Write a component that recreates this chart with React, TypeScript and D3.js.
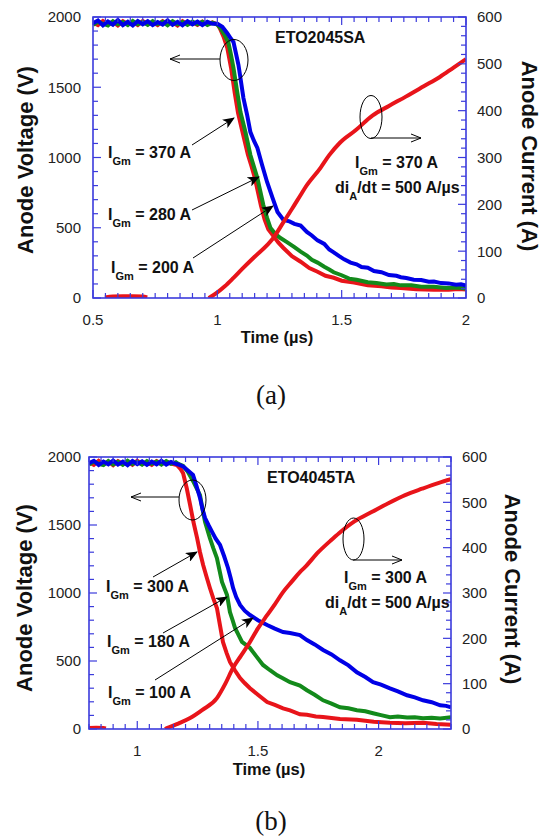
import React from 'react';
import * as d3 from 'd3';

type P = [number, number];

// ---------- Panel (a): ETO2045SA ----------
const voltA_370: P[] = [
  [0.5,1955],[0.52,1975],[0.54,1940],[0.56,1968],[0.58,1945],[0.6,1978],[0.62,1942],[0.64,1966],[0.66,1940],[0.68,1972],
  [0.7,1948],[0.72,1970],[0.74,1942],[0.76,1964],[0.78,1946],[0.8,1976],[0.82,1944],[0.84,1966],[0.86,1942],[0.88,1970],
  [0.9,1948],[0.92,1968],[0.94,1943],[0.96,1966],[0.98,1952],[1.0,1952],[1.02,1930],[1.04,1885],[1.055,1845],[1.065,1822],
  [1.075,1740],[1.085,1658],[1.093,1566],[1.105,1423],[1.12,1302],[1.133,1181],[1.147,1120],[1.161,1068],[1.18,947],[1.2,826],
  [1.222,712],[1.242,612],[1.266,555],[1.29,545],[1.31,528],[1.335,515],[1.36,470],[1.38,445],[1.403,410],[1.43,385],
  [1.45,345],[1.468,325],[1.49,298],[1.51,275],[1.536,252],[1.56,240],[1.58,220],[1.605,215],[1.63,192],[1.66,184],
  [1.69,163],[1.72,158],[1.738,148],[1.76,142],[1.79,130],[1.82,128],[1.85,116],[1.871,117],[1.9,106],[1.93,104],
  [1.96,94],[1.98,98],[2.0,88]
];
const voltA_280: P[] = [
  [0.5,1945],[0.52,1966],[0.54,1952],[0.56,1940],[0.58,1970],[0.6,1948],[0.62,1964],[0.64,1942],[0.66,1972],[0.68,1948],
  [0.7,1964],[0.72,1944],[0.74,1970],[0.76,1950],[0.78,1966],[0.8,1942],[0.82,1970],[0.84,1948],[0.86,1964],[0.88,1944],
  [0.9,1968],[0.92,1948],[0.94,1966],[0.96,1944],[0.98,1960],[1.0,1945],[1.012,1922],[1.03,1870],[1.044,1822],[1.055,1730],
  [1.065,1637],[1.08,1466],[1.093,1324],[1.113,1181],[1.133,1018],[1.147,935],[1.161,854],[1.185,662],[1.2,570],[1.214,498],
  [1.234,455],[1.254,427],[1.28,398],[1.31,362],[1.335,330],[1.36,302],[1.38,272],[1.403,252],[1.43,222],[1.45,203],
  [1.468,183],[1.5,162],[1.53,138],[1.56,130],[1.605,112],[1.64,107],[1.68,96],[1.71,100],[1.738,90],[1.78,90],
  [1.82,80],[1.871,80],[1.92,72],[1.96,74],[2.0,68]
];
const voltA_200: P[] = [
  [0.5,1962],[0.52,1942],[0.54,1972],[0.56,1948],[0.58,1966],[0.6,1940],[0.62,1970],[0.64,1950],[0.66,1964],[0.68,1942],
  [0.7,1972],[0.72,1948],[0.74,1962],[0.76,1942],[0.78,1970],[0.8,1950],[0.82,1962],[0.84,1940],[0.86,1970],[0.88,1948],
  [0.9,1962],[0.92,1944],[0.94,1968],[0.96,1948],[0.98,1962],[1.0,1948],[1.01,1920],[1.025,1860],[1.04,1780],[1.055,1640],
  [1.07,1460],[1.083,1320],[1.1,1190],[1.123,1020],[1.137,940],[1.15,860],[1.175,660],[1.19,560],[1.205,490],[1.222,450],
  [1.245,395],[1.266,356],[1.3,298],[1.335,258],[1.37,213],[1.403,187],[1.435,158],[1.468,144],[1.5,123],[1.55,110],
  [1.605,91],[1.66,84],[1.7,74],[1.738,72],[1.8,62],[1.871,58],[1.93,58],[1.97,64],[2.0,60]
];
const currA_pre: P[] = [[0.548,1],[0.58,3],[0.62,4],[0.66,4],[0.7,3],[0.718,1]];
const currA: P[] = [
  [0.965,0],[0.972,2],[1.0,12],[1.03,25],[1.065,43],[1.1,62],[1.15,88],[1.2,113],[1.222,126],[1.266,162],
  [1.3,190],[1.335,220],[1.355,237],[1.415,278],[1.45,305],[1.492,331],[1.556,358],[1.625,390],[1.69,410],[1.758,430],
  [1.83,452],[1.895,472],[1.95,492],[2.0,510]
];

// ---------- Panel (b): ETO4045TA ----------
const voltB_300: P[] = [
  [0.8,1955],[0.82,1972],[0.84,1942],[0.86,1966],[0.88,1946],[0.9,1974],[0.92,1944],[0.94,1966],[0.96,1940],[0.98,1970],
  [1.0,1948],[1.02,1968],[1.04,1942],[1.06,1966],[1.08,1946],[1.1,1972],[1.12,1944],[1.14,1964],[1.16,1950],[1.17,1945],
  [1.19,1930],[1.21,1900],[1.231,1868],[1.245,1790],[1.26,1699],[1.27,1620],[1.281,1551],[1.295,1500],[1.31,1449],[1.325,1400],
  [1.343,1353],[1.36,1270],[1.376,1184],[1.387,1110],[1.397,1037],[1.41,970],[1.426,912],[1.445,870],[1.467,838],[1.5,800],
  [1.538,765],[1.57,738],[1.604,713],[1.633,706],[1.674,691],[1.703,654],[1.735,622],[1.77,581],[1.805,548],[1.84,505],
  [1.875,468],[1.91,417],[1.945,382],[1.977,344],[2.01,326],[2.047,299],[2.08,277],[2.118,248],[2.15,232],[2.184,211],
  [2.22,197],[2.255,174],[2.28,170],[2.3,160]
];
const voltB_180: P[] = [
  [0.8,1945],[0.82,1966],[0.84,1950],[0.86,1940],[0.88,1970],[0.9,1946],[0.92,1964],[0.94,1942],[0.96,1972],[0.98,1948],
  [1.0,1964],[1.02,1944],[1.04,1970],[1.06,1950],[1.08,1966],[1.1,1944],[1.12,1970],[1.14,1950],[1.16,1962],[1.17,1950],
  [1.19,1935],[1.21,1890],[1.235,1810],[1.26,1720],[1.27,1620],[1.281,1522],[1.301,1404],[1.315,1330],[1.33,1257],[1.351,1081],
  [1.372,985],[1.384,860],[1.395,800],[1.405,743],[1.42,690],[1.434,640],[1.467,596],[1.495,530],[1.521,471],[1.55,432],
  [1.58,395],[1.605,372],[1.633,344],[1.674,320],[1.703,285],[1.735,252],[1.77,211],[1.805,187],[1.84,160],[1.875,152],
  [1.91,138],[1.945,130],[1.977,116],[2.01,102],[2.047,86],[2.08,92],[2.118,84],[2.15,86],[2.184,79],[2.22,82],
  [2.255,78],[2.3,86]
];
const voltB_100: P[] = [
  [0.8,1962],[0.82,1942],[0.84,1972],[0.86,1948],[0.88,1966],[0.9,1940],[0.92,1970],[0.94,1950],[0.96,1964],[0.98,1942],
  [1.0,1972],[1.02,1948],[1.04,1962],[1.06,1942],[1.08,1970],[1.1,1950],[1.12,1962],[1.14,1952],[1.165,1940],[1.18,1910],
  [1.19,1880],[1.205,1770],[1.219,1647],[1.233,1520],[1.248,1404],[1.26,1300],[1.273,1206],[1.287,1120],[1.301,1037],[1.315,960],
  [1.33,890],[1.343,760],[1.355,640],[1.37,560],[1.384,493],[1.405,430],[1.426,375],[1.445,338],[1.467,300],[1.5,252],
  [1.538,198],[1.57,177],[1.604,152],[1.633,137],[1.674,108],[1.703,104],[1.74,92],[1.77,89],[1.84,73],[1.91,68],
  [1.98,53],[2.047,46],[2.11,43],[2.184,46],[2.24,36],[2.3,32]
];
const currB_pre: P[] = [[0.8,2],[0.83,3],[0.86,2],[0.87,1]];
const currB: P[] = [
  [1.115,0],[1.123,2],[1.17,12],[1.219,24],[1.27,42],[1.33,68],[1.365,100],[1.397,135],[1.43,162],[1.467,192],
  [1.5,222],[1.538,251],[1.57,275],[1.604,302],[1.64,325],[1.674,346],[1.695,357],[1.75,390],[1.8,415],[1.836,432],
  [1.9,458],[1.973,479],[2.04,498],[2.11,516],[2.18,530],[2.25,543],[2.3,551]
];

const xTicksA = [0.5, 1, 1.5, 2];
const xTicksB = [1, 1.5, 2];
const vTicks = [0, 500, 1000, 1500, 2000];
const iTicks = [0, 100, 200, 300, 400, 500, 600];

const FONT = "'Liberation Sans', Arial, sans-serif";
const AXIS = '#3b3bdc';
const BLUE = '#0000e6';
const GREEN = '#138a1b';
const RED = '#e8141a';

type PanelProps = {
  left: number; right: number; top: number; bottom: number;
  xDomain: [number, number]; xTicks: number[];
  volt: { data: P[]; color: string }[];
  curr: P[][];
  clipId: string;
};

function Panel(p: PanelProps) {
  const x = d3.scaleLinear().domain(p.xDomain).range([p.left, p.right]);
  const yV = d3.scaleLinear().domain([0, 2000]).range([p.bottom, p.top]);
  const yI = d3.scaleLinear().domain([0, 600]).range([p.bottom, p.top]);
  const lineV = d3.line<P>().x(d => x(d[0])).y(d => yV(d[1]));
  const lineI = d3.line<P>().x(d => x(d[0])).y(d => yI(d[1])).curve(d3.curveMonotoneX);
  const minorX = d3.range(Math.round(p.xDomain[0] * 20), Math.round(p.xDomain[1] * 20) + 1).map(k => k / 20);
  const minorV = d3.range(0, 2001, 100);
  const minorI = d3.range(0, 601, 20);
  const isMajX = (v: number) => Math.abs(v * 2 - Math.round(v * 2)) < 1e-6;
  return (
    <g>
      <defs>
        <clipPath id={p.clipId}>
          <rect x={p.left} y={p.top - 3} width={p.right - p.left} height={p.bottom - p.top + 3} />
        </clipPath>
      </defs>
      <g clipPath={`url(#${p.clipId})`}>
        {p.volt.map((s, i) => (
          <path key={i} d={lineV(s.data) || ''} fill="none" stroke={s.color} strokeWidth={4} strokeLinejoin="miter" />
        ))}
        {p.curr.map((s, i) => (
          <path key={i} d={lineI(s) || ''} fill="none" stroke={RED} strokeWidth={4} />
        ))}
      </g>
      {minorX.map((v, i) => {
        const L = isMajX(v) ? 8 : 5;
        return (
          <g key={'x' + i}>
            <line x1={x(v)} x2={x(v)} y1={p.bottom} y2={p.bottom - L} stroke={AXIS} strokeWidth={1.2} />
            <line x1={x(v)} x2={x(v)} y1={p.top} y2={p.top + L} stroke={AXIS} strokeWidth={1.2} />
          </g>
        );
      })}
      {minorV.map((v, i) => {
        const L = v % 500 === 0 ? 8 : 5;
        return <line key={'v' + i} x1={p.left} x2={p.left + L} y1={yV(v)} y2={yV(v)} stroke={AXIS} strokeWidth={1.2} />;
      })}
      {minorI.map((v, i) => {
        const L = v % 100 === 0 ? 8 : 5;
        return <line key={'i' + i} x1={p.right} x2={p.right - L} y1={yI(v)} y2={yI(v)} stroke={AXIS} strokeWidth={1.2} />;
      })}
      <rect x={p.left} y={p.top} width={p.right - p.left} height={p.bottom - p.top} fill="none" stroke={AXIS} strokeWidth={1.6} />
      {vTicks.map(v => (
        <text key={'vl' + v} x={81} y={yV(v)} dy="0.36em" textAnchor="end" fontSize={15} fill="#222" fontFamily={FONT}>{v}</text>
      ))}
      {iTicks.map(v => (
        <text key={'il' + v} x={p.right + 11} y={yI(v)} dy="0.36em" textAnchor="start" fontSize={15} fill="#222" fontFamily={FONT}>{v}</text>
      ))}
      {p.xTicks.map(v => (
        <text key={'xl' + v} x={x(v)} y={p.bottom + 27} textAnchor="middle" fontSize={15} fill="#222" fontFamily={FONT}>{v}</text>
      ))}
    </g>
  );
}

function IGm({ x, y, val }: { x: number; y: number; val: string }) {
  return (
    <text x={x} y={y} fontFamily={FONT} fontWeight="bold" fontSize={16} fill="#111">
      I<tspan fontSize={11} dy={7}>Gm</tspan><tspan dy={-7}>{` = ${val}`}</tspan>
    </text>
  );
}

function DiDt({ x, y }: { x: number; y: number }) {
  return (
    <text x={x} y={y} fontFamily={FONT} fontWeight="bold" fontSize={16} fill="#111">
      di<tspan fontSize={11} dy={7}>A</tspan><tspan dy={-7}>/dt = 500 A/µs</tspan>
    </text>
  );
}

function Arrow({ x1, y1, x2, y2 }: { x1: number; y1: number; x2: number; y2: number }) {
  return <line x1={x1} y1={y1} x2={x2} y2={y2} stroke="#000" strokeWidth={1} markerEnd="url(#ah)" />;
}

export default function App() {
  return (
    <svg width={544} height={838} style={{ position: 'absolute', left: 0, top: 0, background: '#fff' }}>
      <defs>
        <marker id="ah" viewBox="0 0 12 10" refX={11} refY={5} markerWidth={12} markerHeight={10} markerUnits="userSpaceOnUse" orient="auto">
          <path d="M0,0 L12,5 L0,10 L3,5 z" fill="#000" />
        </marker>
      </defs>
      <rect width={544} height={838} fill="#fff" />

      {/* Panel (a) */}
      <Panel left={93} right={466} top={17} bottom={298} xDomain={[0.5, 2]} xTicks={xTicksA} clipId="ca"
        volt={[{ data: voltA_200, color: RED }, { data: voltA_280, color: GREEN }, { data: voltA_370, color: BLUE }]}
        curr={[currA_pre, currA]} />
      <text x={275} y={43} fontFamily={FONT} fontWeight="bold" fontSize={16} fill="#111">ETO2045SA</text>
      <IGm x={108} y={158} val="370 A" />
      <IGm x={108} y={220} val="280 A" />
      <IGm x={111} y={273} val="200 A" />
      <Arrow x1={192} y1={145} x2={234} y2={118} />
      <Arrow x1={192} y1={210} x2={259} y2={177} />
      <Arrow x1={193} y1={258} x2={273} y2={206} />
      <ellipse cx={234} cy={60} rx={14} ry={20.5} fill="none" stroke="#000" strokeWidth={1} />
      <line x1={220} y1={59} x2={170} y2={59} stroke="#000" strokeWidth={1} />
      <polyline points="180,55 170,59 180,63" fill="none" stroke="#000" strokeWidth={1} />
      <ellipse cx={371} cy={117} rx={11} ry={21.5} fill="none" stroke="#000" strokeWidth={1} />
      <line x1={371} y1={138} x2={421} y2={138} stroke="#000" strokeWidth={1} />
      <polyline points="411,134 421,138 411,142" fill="none" stroke="#000" strokeWidth={1} />
      <IGm x={355} y={168} val="370 A" />
      <DiDt x={335} y={193} />
      <text transform="translate(33,160) rotate(-90)" textAnchor="middle" fontFamily={FONT} fontWeight="bold" fontSize={22} fill="#111">Anode Voltage (V)</text>
      <text transform="translate(522,156) rotate(90)" textAnchor="middle" fontFamily={FONT} fontWeight="bold" fontSize={22} fill="#111">Anode Current (A)</text>
      <text x={277} y={343} textAnchor="middle" fontFamily={FONT} fontWeight="bold" fontSize={16.5} fill="#111">Time (µs)</text>
      <text x={271} y={404} textAnchor="middle" fontFamily="'Liberation Serif', 'Times New Roman', serif" fontSize={27} fill="#111">(a)</text>

      {/* Panel (b) */}
      <Panel left={89} right={451} top={457} bottom={729} xDomain={[0.8, 2.3]} xTicks={xTicksB} clipId="cb"
        volt={[{ data: voltB_100, color: RED }, { data: voltB_180, color: GREEN }, { data: voltB_300, color: BLUE }]}
        curr={[currB_pre, currB]} />
      <text x={267} y={483} fontFamily={FONT} fontWeight="bold" fontSize={16} fill="#111">ETO4045TA</text>
      <IGm x={106} y={592} val="300 A" />
      <IGm x={107} y={647} val="180 A" />
      <IGm x={108} y={698} val="100 A" />
      <Arrow x1={153} y1={577} x2={197} y2={552} />
      <Arrow x1={163} y1={633} x2={227} y2={597} />
      <Arrow x1={155} y1={680} x2={253} y2={618} />
      <ellipse cx={192.5} cy={500} rx={13.5} ry={20} fill="none" stroke="#000" strokeWidth={1} />
      <line x1={179} y1={497} x2={131} y2={497} stroke="#000" strokeWidth={1} />
      <polyline points="141,493 131,497 141,501" fill="none" stroke="#000" strokeWidth={1} />
      <ellipse cx={353.5} cy={539} rx={10.5} ry={21} fill="none" stroke="#000" strokeWidth={1} />
      <line x1={353} y1={560} x2={402} y2={560} stroke="#000" strokeWidth={1} />
      <polyline points="392,556 402,560 392,564" fill="none" stroke="#000" strokeWidth={1} />
      <IGm x={344} y={583} val="300 A" />
      <DiDt x={325} y={608} />
      <text transform="translate(32,598) rotate(-90)" textAnchor="middle" fontFamily={FONT} fontWeight="bold" fontSize={22} fill="#111">Anode Voltage (V)</text>
      <text transform="translate(505,589) rotate(90)" textAnchor="middle" fontFamily={FONT} fontWeight="bold" fontSize={22} fill="#111">Anode Current (A)</text>
      <text x={269} y={775} textAnchor="middle" fontFamily={FONT} fontWeight="bold" fontSize={16.5} fill="#111">Time (µs)</text>
      <text x={271} y={830} textAnchor="middle" fontFamily="'Liberation Serif', 'Times New Roman', serif" fontSize={27} fill="#111">(b)</text>
    </svg>
  );
}
